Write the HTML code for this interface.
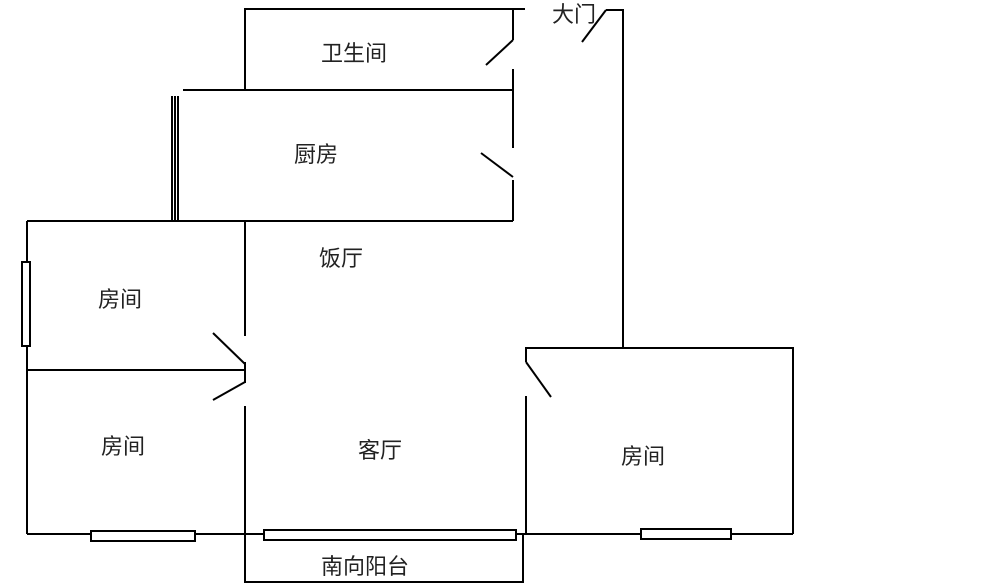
<!DOCTYPE html>
<html><head><meta charset="utf-8"><style>
html,body{margin:0;padding:0;background:#fff;width:1000px;height:587px;overflow:hidden}
svg text{font-family:"Liberation Sans","Noto Sans CJK SC",sans-serif;font-size:22px;fill:#222}
</style></head><body>
<svg width="1000" height="587" viewBox="0 0 1000 587" xmlns="http://www.w3.org/2000/svg">
<g stroke="#000" stroke-width="2" fill="none">
<polyline points="245,90 245,9 525,9"/>
<line x1="513" y1="9" x2="513" y2="40"/>
<line x1="513" y1="40" x2="486" y2="65"/>
<line x1="513" y1="69" x2="513" y2="148"/>
<line x1="183" y1="90" x2="513" y2="90"/>
<line x1="481" y1="153" x2="513" y2="177"/>
<line x1="513" y1="180" x2="513" y2="221"/>
<line x1="27" y1="221" x2="513" y2="221"/>
<line x1="172" y1="96" x2="172" y2="221"/>
<line x1="175" y1="96" x2="175" y2="221"/>
<line x1="178" y1="96" x2="178" y2="221"/>
<line x1="582" y1="42" x2="606" y2="10"/>
<polyline points="606,10 623,10 623,348"/>
<line x1="27" y1="221" x2="27" y2="534"/>
<rect x="22" y="262" width="8" height="84" fill="#fff"/>
<line x1="27" y1="370" x2="245" y2="370"/>
<line x1="245" y1="221" x2="245" y2="336"/>
<line x1="213" y1="333" x2="245" y2="364"/>
<line x1="245" y1="362" x2="245" y2="383"/>
<line x1="213" y1="400" x2="245" y2="382"/>
<line x1="245" y1="406" x2="245" y2="583"/>
<line x1="27" y1="534" x2="793" y2="534"/>
<rect x="91" y="531" width="104" height="10" fill="#fff"/>
<rect x="264" y="530" width="252" height="10" fill="#fff"/>
<polyline points="245,582 523,582 523,534"/>
<polyline points="526,362 526,348 793,348 793,534"/>
<line x1="526" y1="362" x2="551" y2="397"/>
<line x1="526" y1="396" x2="526" y2="534"/>
<rect x="641" y="529" width="90" height="10" fill="#fff"/>
</g>
<text x="321" y="61">卫生间</text>
<text x="294" y="162">厨房</text>
<text x="319" y="266">饭厅</text>
<text x="98" y="307">房间</text>
<text x="101" y="454">房间</text>
<text x="358" y="458">客厅</text>
<text x="621" y="464">房间</text>
<text x="321" y="574">南向阳台</text>
<text x="552" y="22">大门</text>
</svg>
</body></html>
